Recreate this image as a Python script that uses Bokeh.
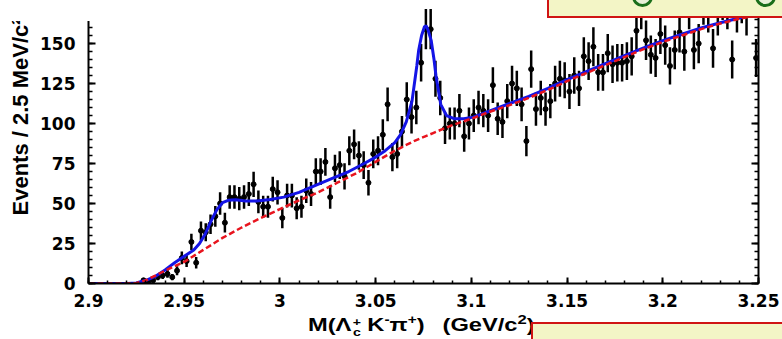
import numpy as np
from bokeh.plotting import figure
from bokeh.layouts import column
from bokeh.models import (Range1d, LinearAxis, SingleIntervalTicker, CustomJSTickFormatter,
                          ColumnDataSource, Div, Title)
from bokeh.embed import file_html
from bokeh.resources import INLINE

# ---------------- data ----------------
bin_width = 0.0025          # GeV/c^2 (2.5 MeV bins)
first_bin_low = 2.9275      # low edge of first filled bin
counts = [2, 1, 2, 4, 5, 6, 4, 8, 16, 14,
          26, 13, 33, 32, 37, 42, 50, 38, 54, 54,
          53, 54, 56, 62, 51, 48, 48, 59, 57, 41,
          55, 55, 47, 48, 58, 56, 70, 70, 76, 54,
          72, 74, 67, 83, 87, 80, 74, 63, 81, 83,
          93, 112, 79, 81, 95, 115, 104, 110, 138, 159,
          159, 128, 116, 97, 100, 100, 108, 92, 100, 105,
          110, 108, 105, 124, 103, 101, 114, 125, 122, 112,
          89, 134, 109, 116, 109, 114, 125, 128, 127, 120,
          130, 122, 142, 139, 148, 132, 132, 144, 137, 138,
          138, 139, 142, 158, 172, 152, 143, 141, 156, 149,
          136, 146, 157, 145, 172, 146, 150, 175, 170, 147,
          168, 178, 172, 140, 170, 176, 168, 180, 141]

# total fit (blue)
fit_mass = [2.900, 2.920, 2.925, 2.930, 2.935, 2.940, 2.945, 2.950, 2.955, 2.958,
            2.961, 2.964, 2.967, 2.970, 2.973, 2.977, 2.982, 2.988, 2.995, 3.002,
            3.010, 3.018, 3.027, 3.036, 3.044, 3.050, 3.055, 3.060, 3.063, 3.066,
            3.069, 3.0715, 3.0725, 3.074, 3.0755, 3.0765, 3.0775, 3.079, 3.0805, 3.0815,
            3.084, 3.087, 3.091, 3.096, 3.101, 3.110, 3.120, 3.130, 3.140, 3.150,
            3.160, 3.170, 3.180, 3.190, 3.200, 3.210, 3.220, 3.230, 3.240, 3.250]
fit_total = [0, 0, 0.3, 2, 4.5, 8.5, 13, 17, 21, 25,
             31, 39, 46, 50.5, 52, 52.3, 51.5, 51.5, 52.5, 54,
             57, 61, 65.5, 70, 75, 79, 83, 88, 93, 101,
             114, 136, 146, 155, 160.5, 161, 158, 152, 140, 130,
             112, 105, 103, 103, 104, 108, 112.5, 117, 122, 127.5,
             132.5, 137.5, 142.5, 147.3, 151.8, 155.8, 159.7, 163, 166, 168.5]

# background (red dashed)
bkg_mass = [2.900, 2.920, 2.925, 2.930, 2.940, 2.950, 2.960, 2.970, 2.980, 2.990,
            3.000, 3.010, 3.020, 3.030, 3.040, 3.050, 3.060, 3.070, 3.080, 3.090,
            3.100, 3.110, 3.120, 3.130, 3.140, 3.150, 3.160, 3.170, 3.180, 3.190,
            3.200, 3.210, 3.220, 3.230, 3.240, 3.250]
bkg_value = [0, 0, 0.3, 2, 8, 13.5, 21, 28.5, 35, 41,
             46.5, 52, 57, 63, 69, 76, 83, 89, 94, 99,
             103, 107.5, 111.5, 116, 121, 126.5, 131.5, 136.5, 141.5, 146.5,
             151, 155, 159, 162.5, 165.5, 168]

x_min, x_max = 2.9, 3.25
y_min, y_max = 0, 176.9

y_title = "Events / 2.5 MeV/c²"
x_title_html = ('M(Λ<span style="display:inline-block;vertical-align:-5px;font-size:11px;'
                'line-height:10px;text-align:center;margin-left:1px">+<br>c</span>'
                '<span style="margin-left:5px">K</span>'
                '<sup style="font-size:12px;line-height:0">-</sup>π'
                '<sup style="font-size:12px;line-height:0">+</sup>)'
                '<span style="display:inline-block;width:14px"></span>'
                '(GeV/c<sup style="font-size:13px;line-height:0">2</sup>)')

# ---------------- layout constants ----------------
W, H = 782, 339
FL, FR, FT, FB = 88, 758, 0, 283   # frame edges in canvas px

mass = first_bin_low + bin_width * (np.arange(len(counts)) + 0.5)
n = np.array(counts, dtype=float)
err = np.sqrt(n)
src = ColumnDataSource(dict(x=mass, y=n, lo=n - err, hi=n + err))

p = figure(frame_width=FR - FL, frame_height=FB - FT,
           min_border_left=FL, min_border_right=W - FR,
           min_border_top=FT, min_border_bottom=H - FB,
           x_range=Range1d(x_min, x_max), y_range=Range1d(y_min, y_max),
           output_backend="svg", toolbar_location=None, x_axis_type=None, y_axis_type=None)
p.title.visible = False
p.xgrid.visible = False
p.ygrid.visible = False
p.outline_line_color = None
p.background_fill_color = "white"
p.border_fill_color = "white"

fmt_x = CustomJSTickFormatter(code="return tick.toFixed(2).replace(/0+$/,'').replace(/\\.$/,'');")
fmt_blank = CustomJSTickFormatter(code="return '';")

def style(ax, tin, tmin):
    ax.axis_line_width = 2
    ax.axis_line_color = "black"
    ax.major_tick_in = tin
    ax.major_tick_out = 0
    ax.minor_tick_in = tmin
    ax.minor_tick_out = 0
    ax.major_tick_line_width = 2
    ax.minor_tick_line_width = 1.5
    ax.major_label_text_font = "DejaVu Sans"
    ax.major_label_text_font_style = "bold"
    ax.major_label_text_font_size = "17px"
    ax.major_label_text_color = "black"

xax = LinearAxis(ticker=SingleIntervalTicker(interval=0.05, num_minor_ticks=5), formatter=fmt_x)
style(xax, 6, 3)
xax.major_label_standoff = 10
p.add_layout(xax, "below")

yax = LinearAxis(ticker=SingleIntervalTicker(interval=25, num_minor_ticks=5))
style(yax, 7, 4)
yax.major_label_standoff = 13
p.add_layout(yax, "left")

rax = LinearAxis(ticker=SingleIntervalTicker(interval=25, num_minor_ticks=5), formatter=fmt_blank)
style(rax, 7, 4)
rax.major_label_standoff = 0
rax.major_label_text_font_size = "1px"
p.add_layout(rax, "right")

p.add_layout(Title(text=y_title, align="left", offset=68, standoff=9,
                   text_font="Liberation Sans", text_font_style="bold",
                   text_font_size="22px", text_color="black"), "left")

# data points with error bars
p.segment(x0="x", y0="lo", x1="x", y1="hi", source=src, line_color="black", line_width=2.5)
p.scatter(x="x", y="y", source=src, size=5, color="black")
# fits
p.line(fit_mass, fit_total, line_color="#1414e6", line_width=3)
p.line(bkg_mass, bkg_value, line_color="#e8141e", line_width=2.5, line_dash="6 3")

def box(left, top, width, height, extra):
    st = {"position": "absolute", "left": f"{left}px", "top": f"{top}px",
          "width": f"{width}px", "height": f"{height}px", "box-sizing": "border-box",
          "margin": "0", "padding": "0"}
    st.update(extra)
    return Div(text="", styles=st)

xlabel = Div(text=x_title_html,
             styles={"position": "absolute", "left": "308px", "top": "314px",
                     "font-family": "Liberation Sans", "font-weight": "bold",
                     "font-size": "18.5px", "white-space": "nowrap", "color": "black",
                     "line-height": "22px", "margin": "0", "padding": "0",
                     "transform": "scaleX(1.28)", "transform-origin": "0 0"})

overlays = [
    xlabel,
    box(0, 0, 110, 21, {"background": "white"}),
    box(547, -3, 240, 21, {"background": "#f3f5c6", "border": "2px solid #d01414"}),
    box(531, 322, 255, 22, {"background": "#f3f5c6", "border": "2px solid #d01414"}),
    box(632, -14, 21, 21, {"background": "#e8f0d8", "border": "3px solid #1a6e1a",
                            "border-radius": "50%"}),
    box(755, -14, 21, 21, {"background": "#e8f0d8", "border": "3px solid #1a6e1a",
                            "border-radius": "50%"}),
]

layout = column(p, *overlays)
open("out.html", "w").write(file_html(layout, INLINE))
